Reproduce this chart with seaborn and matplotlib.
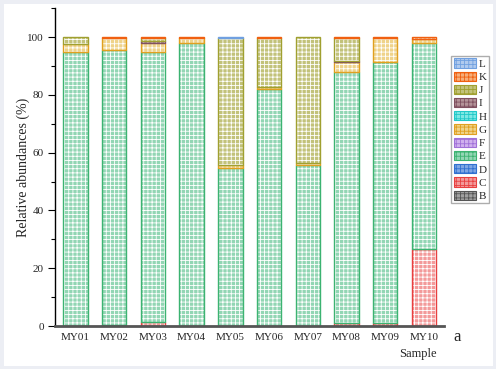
import matplotlib
matplotlib.use("Agg")
import matplotlib.pyplot as plt
import seaborn as sns
import numpy as np
import pandas as pd
from matplotlib.patches import Patch, Rectangle
from matplotlib.ticker import MultipleLocator

samples = ["MY01", "MY02", "MY03", "MY04", "MY05", "MY06", "MY07", "MY08", "MY09", "MY10"]
groups = ["B", "C", "D", "E", "F", "G", "H", "I", "J", "K", "L"]

B = [0, 0, 0, 0, 0, 0, 0, 0, 0, 0]
C = [0, 0.5, 1.3, 0, 0, 0, 0, 1.2, 1.0, 26.5]
D = [0, 0, 0, 0, 0, 0, 0, 0, 0, 0]
E = [94.9, 95.0, 93.4, 97.9, 54.7, 82.0, 55.6, 86.8, 90.2, 71.5]
F = [0, 0, 0, 0, 0, 0, 0, 0, 0, 0]
G = [2.7, 4.0, 3.2, 1.6, 1.0, 0.8, 0.8, 3.2, 8.3, 1.3]
H = [0, 0, 0, 0, 0, 0, 0, 0, 0, 0]
I = [0, 0, 0.8, 0, 0, 0, 0, 0.6, 0, 0]
J = [2.4, 0, 0.9, 0, 43.8, 16.7, 43.6, 7.7, 0, 0]
K = [0, 0.5, 0.4, 0.5, 0, 0.5, 0, 0.5, 0.5, 0.7]
L = [0, 0, 0, 0, 0.5, 0, 0, 0, 0, 0]
series = [B, C, D, E, F, G, H, I, J, K, L]

face = {"B": "#a0a0a0", "C": "#f39a9a", "D": "#7ea6e4", "E": "#92d6b4",
        "F": "#d0b0ee", "G": "#efd38a", "H": "#7ee8e4", "I": "#b49298",
        "J": "#c2c27a", "K": "#f6ae7a", "L": "#b0caee"}
edge = {"B": "#555555", "C": "#e84040", "D": "#3070d0", "E": "#3cb371",
        "F": "#a070d8", "G": "#e0a020", "H": "#20c8c8", "I": "#805060",
        "J": "#a0a030", "K": "#f06010", "L": "#70a0e0"}

sns.set_theme(style="white")
plt.rcParams["font.family"] = ["Liberation Serif", "DejaVu Serif"]
plt.rcParams["hatch.linewidth"] = 0.6

fig = plt.figure(figsize=(4.96, 3.69), dpi=100)
ax = fig.add_axes([0.111, 0.1165, 0.784, 0.8615])

bottom = np.zeros(len(samples))
for g, vals in zip(groups, series):
    vals = np.array(vals, dtype=float)
    if vals.sum() == 0:
        continue
    df = pd.DataFrame({"Sample": samples, "v": vals})
    n0 = len(ax.patches)
    sns.barplot(data=df, x="Sample", y="v", bottom=bottom, color=face[g],
                width=0.63, ax=ax, saturation=1, linewidth=0,
                edgecolor="white", errorbar=None)
    for p in ax.patches[n0:]:
        p.set_hatch("++++")
        p.set_edgecolor("white")
        p.set_linewidth(0)
    n1 = len(ax.patches)
    sns.barplot(data=df, x="Sample", y="v", bottom=bottom, color=edge[g],
                width=0.63, ax=ax, saturation=1, linewidth=1.0,
                edgecolor=edge[g], errorbar=None)
    for p in ax.patches[n1:]:
        p.set_fill(False)
        p.set_edgecolor(edge[g])
        if p.get_height() == 0:
            p.set_visible(False)
    bottom = bottom + vals

ax.set_xlim(-0.53, 9.52)
ax.set_ylim(0, 110)
ax.yaxis.set_major_locator(MultipleLocator(20))
ax.yaxis.set_minor_locator(MultipleLocator(10))
ax.tick_params(axis="y", which="major", direction="out", length=5, width=0.8,
               left=True, labelsize=8, color="black", pad=3)
ax.tick_params(axis="y", which="minor", direction="out", length=3, width=0.8,
               left=True, color="black")
ax.tick_params(axis="x", length=0, labelsize=8, pad=5)
for s in ["top", "right"]:
    ax.spines[s].set_visible(False)
ax.spines["left"].set_color("black")
ax.spines["left"].set_linewidth(1.0)
ax.spines["bottom"].set_color("#555555")
ax.spines["bottom"].set_linewidth(2.0)
ax.set_ylabel("Relative abundances (%)", fontsize=10)
ax.yaxis.label.set_va("center")
ax.yaxis.set_label_coords(-0.082, 0.5)
ax.set_xlabel("Sample", fontsize=9, va="top")
ax.xaxis.set_label_coords(0.933, -0.069)
fig.text(0.921, 0.086, "a", fontsize=12, ha="center", va="center")

handles = [Patch(facecolor=face[g], edgecolor=edge[g], hatch="++++", linewidth=0.8,
                 label=g) for g in groups][::-1]
leg = fig.legend(handles=handles, loc="upper left", bbox_to_anchor=(0.91, 0.848),
                 fontsize=8, frameon=True, fancybox=False, edgecolor="#999999",
                 handlelength=2.0, handleheight=0.9, handletextpad=0.25,
                 labelspacing=0.25, borderpad=0.2, borderaxespad=0)
for h in leg.legend_handles:
    h.set_hatch("++++")

fig.patches.append(Rectangle((0, 0), 1, 1, transform=fig.transFigure, fill=False,
                             edgecolor="#eceef4", linewidth=5, zorder=-1))
fig.savefig("out.png", dpi=100)
